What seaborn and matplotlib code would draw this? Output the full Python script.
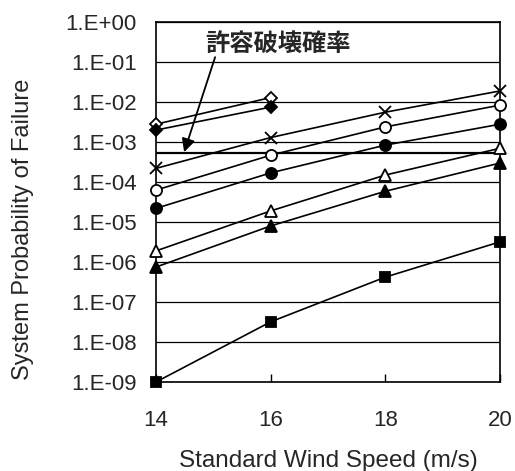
import matplotlib
matplotlib.use("Agg")
import matplotlib.pyplot as plt
import seaborn as sns
import pandas as pd
import numpy as np

sns.set_theme(style="white")
plt.rcParams['font.family'] = ['Liberation Sans', 'Noto Sans CJK JP', 'DejaVu Sans']

wind = [14, 16, 18, 20]
open_diamond = [2.8e-3, 1.3e-2]
filled_diamond = [2.0e-3, 7.5e-3]
cross = [2.2e-4, 1.3e-3, 5.6e-3, 1.9e-2]
open_circle = [6.3e-5, 4.7e-4, 2.4e-3, 8.4e-3]
filled_circle = [2.2e-5, 1.7e-4, 8.4e-4, 2.8e-3]
open_triangle = [1.9e-6, 1.9e-5, 1.5e-4, 7.0e-4]
filled_triangle = [7.5e-7, 8.0e-6, 5.9e-5, 3.0e-4]
square = [1.0e-9, 3.2e-8, 4.2e-7, 3.2e-6]
allowable = 5.4e-4
ytick_vals = [10.0 ** -k for k in range(9, -1, -1)]
ytick_labels = ["1.E-09", "1.E-08", "1.E-07", "1.E-06", "1.E-05", "1.E-04",
                "1.E-03", "1.E-02", "1.E-01", "1.E+00"]
xticks = [14, 16, 18, 20]
annot_text = "許容破壊確率"

series = [
    (open_diamond, 'D', 'white', 6.5),
    (filled_diamond, 'D', 'black', 6.5),
    (cross, 'x', 'black', 9),
    (open_circle, 'o', 'white', 8),
    (filled_circle, 'o', 'black', 8),
    (open_triangle, '^', 'white', 8),
    (filled_triangle, '^', 'black', 8),
    (square, 's', 'black', 7.5),
]

fig = plt.figure(figsize=(5.15, 4.71), dpi=100)
ax = fig.add_axes([0.303, 0.189, 0.668, 0.764])

ax.set_yscale('log')
for yv in ytick_vals:
    ax.axhline(yv, color='black', lw=0.9, zorder=1)
ax.axhline(allowable, color='black', lw=1.6, zorder=1)

for vals, m, fc, ms in series:
    df = pd.DataFrame({'x': wind[:len(vals)], 'y': vals})
    sns.lineplot(data=df, x='x', y='y', ax=ax, color='black', lw=1.2,
                 marker=m, markersize=ms, markerfacecolor=fc,
                 markeredgecolor='black', markeredgewidth=1.3, zorder=3,
                 clip_on=False)

ax.set_xlim(14, 20)
ax.set_ylim(1e-9, 1.0)
ax.set_xticks(xticks)
ax.set_xticklabels([str(v) for v in xticks], fontsize=16)
ax.set_yticks(ytick_vals)
ax.set_yticklabels(ytick_labels, fontsize=16)
ax.minorticks_off()
ax.tick_params(axis='x', direction='in', length=6, width=1, color='black',
               bottom=True, pad=20)
ax.tick_params(axis='y', length=0, pad=14)
for s in ax.spines.values():
    s.set_color('black')
    s.set_linewidth(1.2)

ax.set_xlabel("Standard Wind Speed (m/s)", fontsize=17.5)
ax.xaxis.set_label_coords(0.5, -0.19)
ax.set_ylabel("System Probability of Failure", fontsize=17)
ax.yaxis.set_label_coords(-0.355, 0.425)

ax.text(16.13, 0.28, annot_text, fontsize=17.5, fontweight='bold',
        ha='center', va='center', family=['Noto Sans CJK JP', 'DejaVu Sans'])
ax.annotate('', xy=(14.49, 5.6e-4), xytext=(15.03, 0.133),
            arrowprops=dict(arrowstyle='-|>', color='black', lw=1.3,
                            mutation_scale=20, shrinkA=0, shrinkB=0))

fig.savefig("out.png", dpi=100)
